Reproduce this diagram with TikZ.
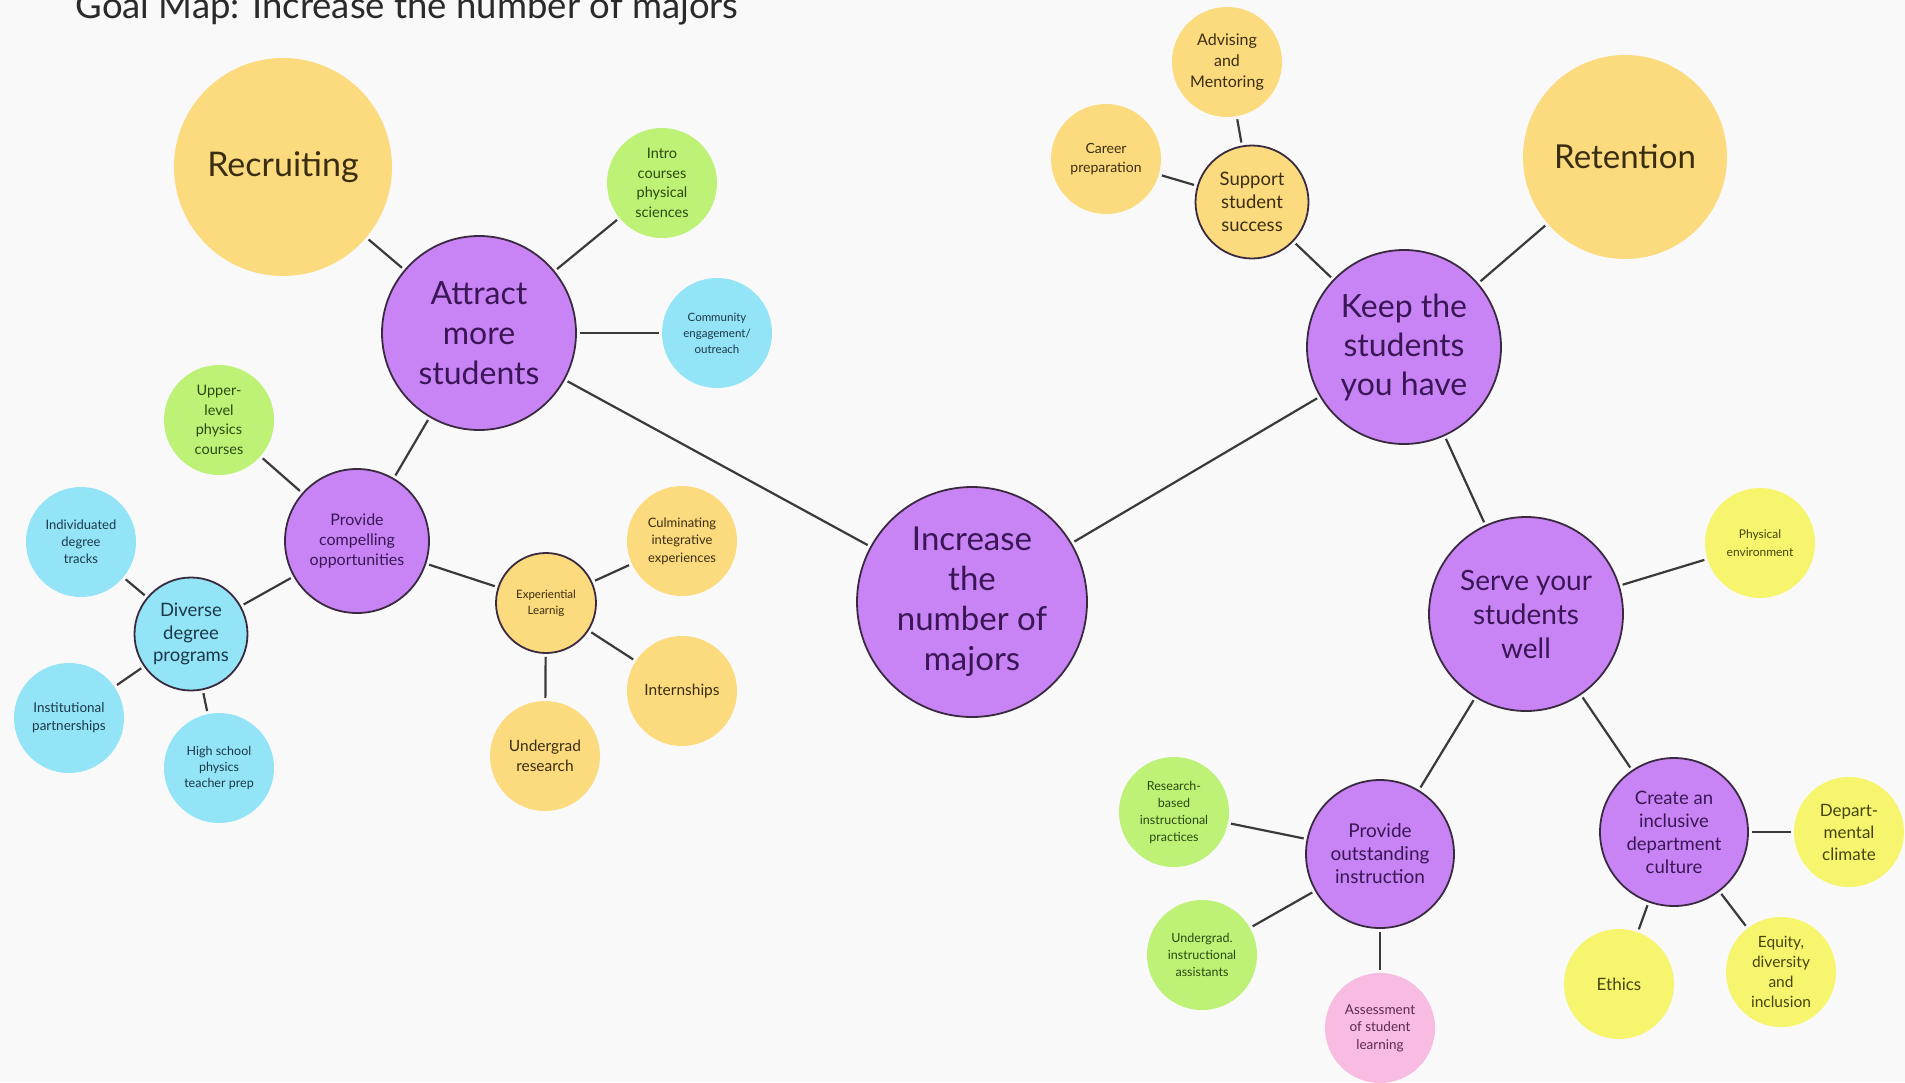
\documentclass[tikz,border=0pt]{standalone}
\usepackage{fontspec}
\setmainfont{Lato}
\definecolor{bg}{HTML}{F9F9F9}
\definecolor{cpurp}{HTML}{C884F4}
\definecolor{tpurp}{HTML}{3A1656}
\definecolor{cyel}{HTML}{FCDA7E}
\definecolor{tyel}{HTML}{3A2E12}
\definecolor{cgreen}{HTML}{BDF276}
\definecolor{tgreen}{HTML}{2C4810}
\definecolor{ccyan}{HTML}{93E4F7}
\definecolor{tcyan}{HTML}{1C3848}
\definecolor{clyel}{HTML}{F7F56E}
\definecolor{tlyel}{HTML}{45450E}
\definecolor{cpink}{HTML}{F8BBE2}
\definecolor{tpink}{HTML}{5A2A50}
\definecolor{cborder}{HTML}{3A2A40}
\definecolor{cline}{HTML}{3A3A3A}
\definecolor{ctitle}{HTML}{2A2A2A}
\newcommand{\fs}[2]{\fontsize{#1}{#2}\selectfont}
\tikzset{
  bub/.style={circle, inner sep=0pt, align=center},
  purp/.style={bub, fill=cpurp, draw=cborder, line width=1.8pt, text=tpurp},
  yel/.style={bub, fill=cyel, text=tyel},
  yelb/.style={yel, draw=cborder, line width=1.8pt},
  green/.style={bub, fill=cgreen, text=tgreen},
  cyan/.style={bub, fill=ccyan, text=tcyan},
  cyanb/.style={cyan, draw=cborder, line width=1.8pt},
  lyel/.style={bub, fill=clyel, text=tlyel},
  pink/.style={bub, fill=cpink, text=tpink},
  conn/.style={draw=cline, line width=2.2pt, shorten <=3pt, shorten >=3pt},
}
\begin{document}
\begin{tikzpicture}[x=1pt,y=-1pt]
\fill[bg] (0,0) rectangle (1905,1082);
\useasboundingbox (0,0) rectangle (1905,1082);
\node[anchor=base west, text=ctitle, font=\fs{36.5}{42}] (title) at (72,18) {Goal Map: Increase the number of majors};

% main
\node[purp, minimum size=230pt, font=\fs{33}{40}] (inc) at (972,602) {Increase\\the\\number of\\majors};
\node[purp, minimum size=194pt, font=\fs{32}{40}] (att) at (479,333) {Attract\\more\\students};
\node[purp, minimum size=194pt, font=\fs{32}{39}] (keep) at (1404,347) {Keep the\\students\\you have};
\node[purp, minimum size=194pt, font=\fs{28}{34}] (serve) at (1526,614) {Serve your\\students\\well};
\node[purp, minimum size=144pt, font=\fs{16}{20}] (pco) at (357,541) {Provide\\compelling\\opportunities};
\node[purp, minimum size=148pt, font=\fs{19}{23}] (poi) at (1380,854) {Provide\\outstanding\\instruction};
\node[purp, minimum size=148pt, font=\fs{18.5}{23}] (cid) at (1674,832) {Create an\\inclusive\\department\\culture};

% left side
\node[yel, minimum size=218pt, font=\fs{34}{40}] (rec) at (283,167) {Recruiting};
\node[green, minimum size=110pt, font=\fs{14.5}{19.5}] (intro) at (662,183) {Intro\\courses\\physical\\sciences};
\node[cyan, minimum size=110pt, font=\fs{11.5}{16}] (comm) at (717,333) {Community\\engagement/\\outreach};
\node[green, minimum size=110pt, font=\fs{14.5}{19.5}] (upper) at (219,420) {Upper-\\level\\physics\\courses};
\node[cyanb, minimum size=113pt, font=\fs{18.5}{22.5}] (div) at (191,634) {Diverse\\degree\\programs};
\node[cyan, minimum size=110pt, font=\fs{13}{17}] (ind) at (81,542) {Individuated\\degree\\tracks};
\node[cyan, minimum size=110pt, font=\fs{13.5}{18}] (inst) at (69,718) {Institutional\\partnerships};
\node[cyan, minimum size=110pt, font=\fs{12.5}{16}] (hs) at (219,768) {High school\\physics\\teacher prep};
\node[yelb, minimum size=100pt, font=\fs{11.5}{16}] (exp) at (546,603) {Experiential\\Learnig};
\node[yel, minimum size=110pt, font=\fs{13}{17.5}] (cul) at (682,541) {Culminating\\integrative\\experiences};
\node[yel, minimum size=110pt, font=\fs{15.5}{19.5}] (intern) at (682,691) {Internships};
\node[yel, minimum size=110pt, font=\fs{15.5}{19.5}] (ugr) at (545,756) {Undergrad\\research};

% right side
\node[yel, minimum size=204pt, font=\fs{33}{40}] (ret) at (1625,157) {Retention};
\node[yelb, minimum size=113pt, font=\fs{18.5}{23}] (sup) at (1252,202) {Support\\student\\success};
\node[yel, minimum size=110pt, font=\fs{16}{21}] (adv) at (1227,62) {Advising\\and\\Mentoring};
\node[yel, minimum size=110pt, font=\fs{14}{19.5}] (car) at (1106,159) {Career\\preparation};
\node[lyel, minimum size=110pt, font=\fs{12}{18}] (phys) at (1760,543) {Physical\\environment};
\node[green, minimum size=110pt, font=\fs{12.5}{17}] (rbi) at (1174,812) {Research-\\based\\instructional\\practices};
\node[green, minimum size=110pt, font=\fs{12.5}{17}] (uia) at (1202,955) {Undergrad.\\instructional\\assistants};
\node[pink, minimum size=110pt, font=\fs{13.5}{17.5}] (asl) at (1380,1028) {Assessment\\of student\\learning};
\node[lyel, minimum size=110pt, font=\fs{17}{22}] (dmc) at (1849,832) {Depart-\\mental\\climate};
\node[lyel, minimum size=110pt, font=\fs{17}{22}] (eth) at (1619,984) {Ethics};
\node[lyel, minimum size=110pt, font=\fs{15.5}{19.8}] (edi) at (1781,972) {Equity,\\diversity\\and\\inclusion};

% connectors
\draw[conn] (rec) -- (att);
\draw[conn] (att) -- (intro);
\draw[conn] (att) -- (comm);
\draw[conn] (att) -- (pco);
\draw[conn] (att) -- (inc);
\draw[conn] (pco) -- (upper);
\draw[conn] (pco) -- (div);
\draw[conn] (pco) -- (exp);
\draw[conn] (div) -- (ind);
\draw[conn] (div) -- (inst);
\draw[conn] (div) -- (hs);
\draw[conn] (exp) -- (cul);
\draw[conn] (exp) -- (intern);
\draw[conn] (exp) -- (ugr);
\draw[conn] (inc) -- (keep);
\draw[conn] (keep) -- (ret);
\draw[conn] (keep) -- (sup);
\draw[conn] (keep) -- (serve);
\draw[conn] (sup) -- (adv);
\draw[conn] (sup) -- (car);
\draw[conn] (serve) -- (phys);
\draw[conn] (serve) -- (poi);
\draw[conn] (serve) -- (cid);
\draw[conn] (poi) -- (rbi);
\draw[conn] (poi) -- (uia);
\draw[conn] (poi) -- (asl);
\draw[conn] (cid) -- (dmc);
\draw[conn] (cid) -- (eth);
\draw[conn] (cid) -- (edi);
\end{tikzpicture}
\end{document}
